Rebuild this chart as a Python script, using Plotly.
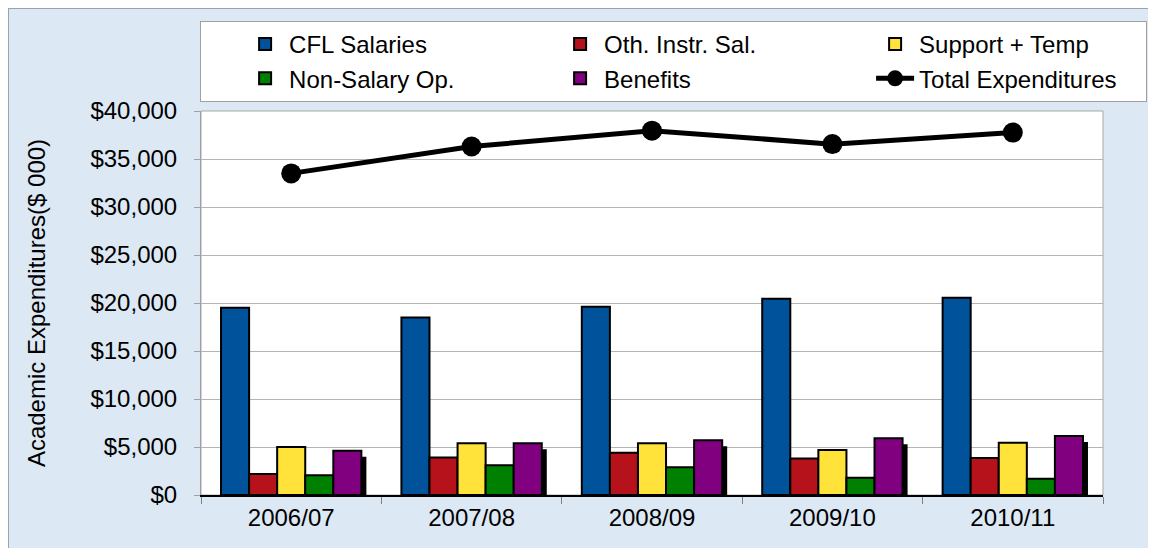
import plotly.graph_objects as go

years = ["2006/07", "2007/08", "2008/09", "2009/10", "2010/11"]
cfl_salaries = [19500, 18500, 19600, 20450, 20550]
oth_instr_sal = [2200, 3900, 4400, 3800, 3850]
support_temp = [5000, 5400, 5400, 4700, 5450]
non_salary_op = [2050, 3100, 2900, 1800, 1700]
benefits = [4600, 5400, 5700, 5900, 6150]
total_expenditures = [33500, 36300, 37950, 36550, 37750]

y_ticks = [0, 5000, 10000, 15000, 20000, 25000, 30000, 35000, 40000]

FONT = "Liberation Sans, Arial, sans-serif"

bar_series = [
    ("CFL Salaries", cfl_salaries, "#00529b"),
    ("Oth. Instr. Sal.", oth_instr_sal, "#b5121b"),
    ("Support + Temp", support_temp, "#ffe23a"),
    ("Non-Salary Op.", non_salary_op, "#008000"),
    ("Benefits", benefits, "#800080"),
]

# page has an 8px body margin; the figure is sized to fill the rest
OFF = 8
W, H = 1156 - OFF, 548 - OFF
L, R, T, B = 193, 53, 103, 53
PW, PH = W - L - R, H - T - B

GAP = 0.222
n = len(bar_series)
bw = (1 - GAP) / n
cat_px = PW / len(years)          # pixels per category
unit_px = 40000 / PH              # data units per pixel on y

fig = go.Figure()
for i, (name, vals, col) in enumerate(bar_series):
    off = -(1 - GAP) / 2 + i * bw
    if name == "Benefits":
        # drop shadow behind the last bar (Excel style)
        fig.add_trace(go.Bar(
            x=years, y=[v - 4 * unit_px for v in vals], base=[-2 * unit_px] * len(vals),
            offset=off + 5 / cat_px, width=bw,
            marker=dict(color="#000000", line=dict(width=0)),
            showlegend=False, hoverinfo="skip",
        ))
    fig.add_trace(go.Bar(
        x=years, y=vals, name=name, offset=off, width=bw,
        marker=dict(color=col, line=dict(color="#000000", width=2)),
    ))

fig.add_trace(go.Scatter(
    x=years, y=total_expenditures, name="Total Expenditures",
    mode="lines+markers",
    line=dict(color="#000000", width=5),
    marker=dict(color="#000000", size=20, symbol="circle"),
))


def px_x(page_px):
    return (page_px - OFF - L) / PW


def px_y(page_py):
    return (H - B - (page_py - OFF)) / PH


fig.update_layout(
    width=W, height=H,
    margin=dict(l=L, r=R, t=T, b=B, autoexpand=False),
    paper_bgcolor="#dce8f4",
    plot_bgcolor="#ffffff",
    barmode="overlay",
    font=dict(family=FONT, size=24, color="#000000"),
    showlegend=True,
    legend=dict(
        orientation="h",
        xref="paper", yref="paper",
        x=-0.001, y=px_y(21),
        xanchor="left", yanchor="top",
        bgcolor="#ffffff",
        bordercolor="#a0a0a0", borderwidth=1,
        font=dict(family=FONT, size=24, color="#000000"),
        entrywidth=222, entrywidthmode="pixels",
        traceorder="normal",
        itemwidth=38,
        indentation=40,
    ),
    xaxis=dict(
        type="category",
        range=[-0.5, 4.5],
        showline=True, linecolor="#000000", linewidth=1.5,
        ticks="outside", tickson="boundaries", ticklen=7, tickcolor="#808080",
        showgrid=False,
        tickfont=dict(family=FONT, size=24, color="#000000"),
    ),
    yaxis=dict(
        range=[0, 40000],
        tickvals=y_ticks,
        tickformat="$,.0f",
        showline=True, linecolor="#a0a0a0", linewidth=1,
        ticks="outside", ticklen=6, tickcolor="#a0a0a0",
        ticklabelstandoff=12,
        showgrid=True, gridcolor="#b4b4b4", gridwidth=1,
        zeroline=False,
        tickfont=dict(family=FONT, size=24, color="#000000"),
        title=dict(text="Academic Expenditures($ 000)",
                   font=dict(family=FONT, size=24, color="#000000"),
                   standoff=38),
    ),
    shapes=[
        dict(type="rect", xref="paper", yref="paper", x0=0, x1=1, y0=0, y1=1,
             line=dict(color="#a8a8a8", width=1), fillcolor="rgba(0,0,0,0)", layer="below"),
        dict(type="line", xref="paper", yref="paper",
             x0=px_x(OFF), x1=px_x(1156), y0=px_y(OFF), y1=px_y(OFF),
             line=dict(color="#9aa4ae", width=2)),
        dict(type="line", xref="paper", yref="paper",
             x0=px_x(OFF), x1=px_x(OFF), y0=px_y(OFF), y1=px_y(548),
             line=dict(color="#9aa4ae", width=2)),
    ],
)

fig.write_html("out.html")
